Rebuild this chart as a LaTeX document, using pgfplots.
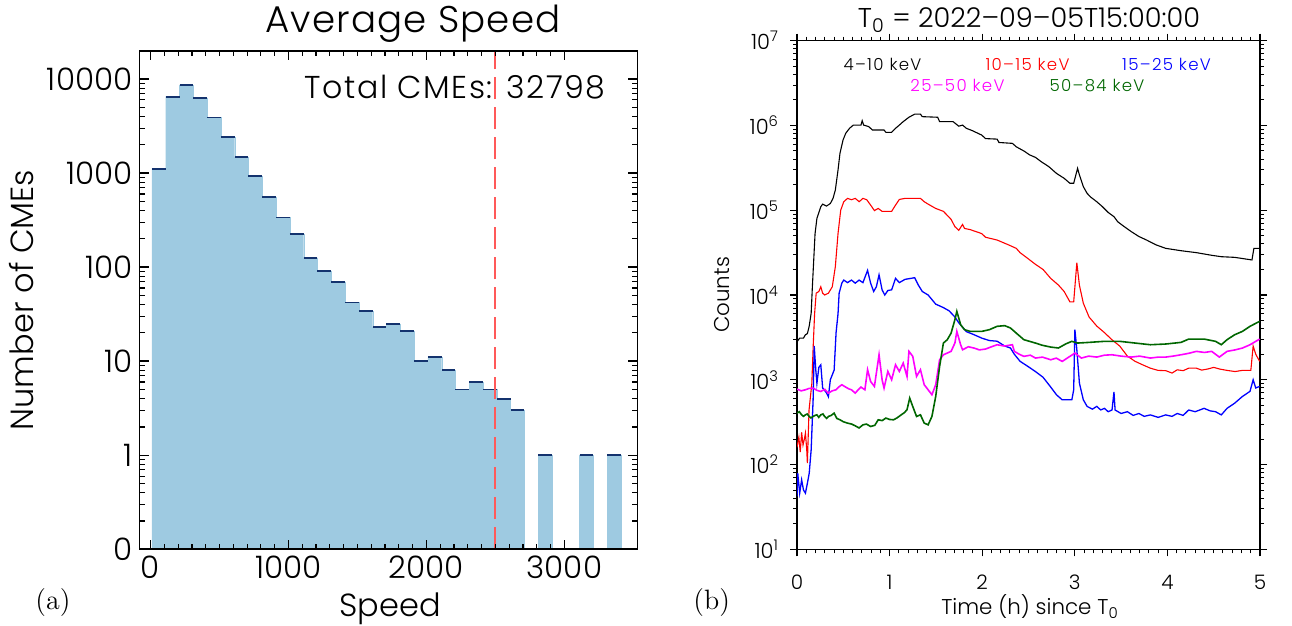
\documentclass[border=0pt]{standalone}
\usepackage{pgfplots}
\pgfplotsset{compat=1.18}
\usepackage{pgfplotstable}
\usepackage{fontspec}
\IfFontExistsTF{Poppins Light}{\setmainfont{Poppins Light}}{\setmainfont{Poppins}}
\newfontfamily\lmr{Latin Modern Roman}
\newcommand\fsz[1]{\fontsize{#1}{#1}\selectfont}
\definecolor{barblue}{rgb}{0.62,0.792,0.882}
\definecolor{barnavy}{rgb}{0.08,0.2,0.43}
\definecolor{dashred}{rgb}{1,0.35,0.35}
\definecolor{dkgreen}{rgb}{0,0.4,0}
\definecolor{cred}{rgb}{1,0,0}
\definecolor{cblue}{rgb}{0,0,1}
\definecolor{cmag}{rgb}{1,0,1}

% histogram of average speed: left bin edge, number of CMEs (empty bins drawn at the "0" level, 0.1)
\pgfplotstableread{
x n
10 1110
110 6500
210 8560
310 6320
410 3890
510 2400
610 1479
710 929
810 560
910 337
1010 226
1110 126
1210 91
1310 70
1410 42
1510 34
1610 23
1710 25
1810 21
1910 10
2010 11
2110 8
2210 5
2310 6
2410 5
2510 4
2610 3
2710 0.1
2810 1
2910 0.1
3010 0.1
3110 1
3210 0.1
3310 1
3410 0.1
}\speedhist

\begin{document}
\begin{tikzpicture}
\path[use as bounding box] (0,0) rectangle (646pt,313pt);

% ---------------- (a) ----------------
\begin{axis}[
  at={(69.75pt,38.35pt)}, anchor=south west, scale only axis,
  width=249pt, height=249.3pt,
  xmin=-80, xmax=3530, ymode=log, ymin=0.1, ymax=2e4,
  log origin y=infty,
  xtick={0,1000,2000,3000}, xticklabels={0,1000,2000,3000},
  minor x tick num=9,
  ytick={0.1,1,10,100,1000,10000}, yticklabels={0,1,10,100,1000,10000},
  minor ytick={0.2,0.3,0.4,0.5,0.6,0.7,0.8,0.9,2,3,4,5,6,7,8,9,20,30,40,50,60,70,80,90,200,300,400,500,600,700,800,900,2000,3000,4000,5000,6000,7000,8000,9000},
  tick align=inside, major tick length=4.7pt, minor tick length=2.6pt,
  axis line style={line width=0.9pt},
  major tick style={line width=0.7pt, black}, minor tick style={line width=0.6pt, black},
  tick label style={font=\fsz{15.5}},
  /pgf/number format/assume math mode=true,
  axis on top,
]
\addplot[ybar interval, fill=barblue, draw=barblue, line width=0.1pt] table[x=x, y=n] {\speedhist};
\addplot[color=barnavy, line width=0.9pt, unbounded coords=jump] coordinates {
(10,1110)(110,1110)(110,nan)
(110,6500)(210,6500)(210,nan)
(210,8560)(310,8560)(310,nan)
(310,6320)(410,6320)(410,nan)
(410,3890)(510,3890)(510,nan)
(510,2400)(610,2400)(610,nan)
(610,1479)(710,1479)(710,nan)
(710,929)(810,929)(810,nan)
(810,560)(910,560)(910,nan)
(910,337)(1010,337)(1010,nan)
(1010,226)(1110,226)(1110,nan)
(1110,126)(1210,126)(1210,nan)
(1210,91)(1310,91)(1310,nan)
(1310,70)(1410,70)(1410,nan)
(1410,42)(1510,42)(1510,nan)
(1510,34)(1610,34)(1610,nan)
(1610,23)(1710,23)(1710,nan)
(1710,25)(1810,25)(1810,nan)
(1810,21)(1910,21)(1910,nan)
(1910,10)(2010,10)(2010,nan)
(2010,11)(2110,11)(2110,nan)
(2110,8)(2210,8)(2210,nan)
(2210,5)(2310,5)(2310,nan)
(2310,6)(2410,6)(2410,nan)
(2410,5)(2510,5)(2510,nan)
(2510,4)(2610,4)(2610,nan)
(2610,3)(2710,3)(2710,nan)
(2810,1)(2910,1)(2910,nan)
(3110,1)(3210,1)(3210,nan)
(3310,1)(3410,1)
};
\addplot[color=dashred, line width=1pt, dash pattern=on 11pt off 4pt] coordinates {(2500,0.1)(2500,2e4)};
\end{axis}

% ---------------- (b) ----------------
\begin{axis}[
  at={(398.5pt,38.35pt)}, anchor=south west, scale only axis,
  width=231.5pt, height=254.3pt,
  xmin=0, xmax=5, ymode=log, ymin=10, ymax=1e7,
  xtick={0,1,2,3,4,5}, xticklabels={0,1,2,3,4,5}, minor x tick num=9,
  ytick={10,100,1000,10000,100000,1000000,10000000},
  yticklabels={10\textsuperscript{1},10\textsuperscript{2},10\textsuperscript{3},10\textsuperscript{4},10\textsuperscript{5},10\textsuperscript{6},10\textsuperscript{7}},
  minor ytick={20,30,40,50,60,70,80,90,200,300,400,500,600,700,800,900,2000,3000,4000,5000,6000,7000,8000,9000,2e4,3e4,4e4,5e4,6e4,7e4,8e4,9e4,2e5,3e5,4e5,5e5,6e5,7e5,8e5,9e5,2e6,3e6,4e6,5e6,6e6,7e6,8e6,9e6},
  tick align=outside, major tick length=3.5pt, minor tick length=2pt,
  axis line style={line width=0.7pt},
  major tick style={line width=0.6pt, black}, minor tick style={line width=0.5pt, black},
  tick label style={font=\fsz{10.5}},
  xticklabel style={font=\fsz{10}, yshift=-6pt},
  yticklabel style={xshift=-2pt},
  /pgf/number format/assume math mode=true,
  every axis plot/.append style={line width=0.55pt},
]
% 4-10 keV
\addplot[color=black] coordinates {
(0,2800)(0.029,3100)(0.07,3100)(0.091,3400)(0.112,3500)(0.132,4300)(0.153,6100)(0.166,12500)(0.195,53000)(0.215,80000)(0.257,110000)(0.277,118000)(0.319,112000)(0.36,120000)(0.389,138000)(0.414,173000)(0.443,298000)(0.464,469000)(0.497,673000)(0.526,807000)(0.567,925000)(0.608,1010000)(0.691,1010000)(0.704,1140000)(0.72,1010000)(0.774,970000)(0.815,883000)(0.94,883000)(0.96,830000)(1.022,830000)(1.064,925000)(1.105,1010000)(1.147,1110000)(1.209,1250000)(1.271,1360000)(1.333,1360000)(1.353,1270000)(1.519,1250000)(1.54,1110000)(1.685,1110000)(1.747,980000)(1.788,1010000)(1.829,925000)(1.892,870000)(1.995,770000)(2.036,700000)(2.161,690000)(2.181,630000)(2.326,615000)(2.368,560000)(2.45,500000)(2.512,450000)(2.575,420000)(2.637,374000)(2.719,327000)(2.802,272000)(2.885,238000)(2.947,208000)(2.988,208000)(3.03,312000)(3.05,260000)(3.092,190000)(3.133,158000)(3.175,142000)(3.237,126000)(3.299,110000)(3.361,94000)(3.423,84000)(3.464,73000)(3.526,65000)(3.609,56000)(3.692,49000)(3.775,44500)(3.878,39000)(3.982,35500)(4.147,33300)(4.313,31600)(4.478,29400)(4.582,28300)(4.727,27800)(4.913,25900)(4.934,35500)(4.996,35500)
};
% 10-15 keV
\addplot[color=cred] coordinates {
(0,160)(0.02,210)(0.035,140)(0.05,240)(0.065,170)(0.08,200)(0.091,235)(0.105,150)(0.112,104)(0.13,440)(0.16,900)(0.175,2500)(0.19,6000)(0.207,10500)(0.236,11000)(0.257,12500)(0.277,10500)(0.298,10000)(0.339,10500)(0.381,12500)(0.414,21600)(0.443,53000)(0.472,100000)(0.505,126000)(0.546,138000)(0.588,133000)(0.629,138000)(0.671,126000)(0.712,138000)(0.753,133000)(0.795,115000)(0.836,99000)(0.877,105000)(0.919,97000)(1.022,97000)(1.064,115000)(1.105,134000)(1.167,138000)(1.333,138000)(1.374,126000)(1.416,118000)(1.498,105000)(1.581,97000)(1.623,87000)(1.664,78000)(1.705,64000)(1.747,58000)(1.788,68000)(1.809,61000)(1.871,59000)(1.995,53000)(2.036,48000)(2.161,44500)(2.285,39000)(2.368,35500)(2.409,31600)(2.492,27000)(2.575,23000)(2.657,20000)(2.74,15700)(2.823,13100)(2.885,11000)(2.947,8300)(2.988,8300)(3.022,24000)(3.05,13000)(3.092,8000)(3.154,5500)(3.237,4300)(3.32,3600)(3.402,2960)(3.485,2500)(3.568,1900)(3.651,1650)(3.733,1500)(3.816,1370)(3.899,1290)(3.982,1280)(4.05,1200)(4.106,1310)(4.17,1280)(4.23,1370)(4.313,1370)(4.37,1300)(4.437,1340)(4.5,1400)(4.561,1340)(4.644,1290)(4.73,1250)(4.81,1290)(4.901,1290)(4.926,2500)(4.954,2000)(4.996,1650)
};
% 15-25 keV
\addplot[color=cblue, line width=0.65pt] coordinates {
(0,42)(0.008,79)(0.029,46)(0.05,66)(0.07,50)(0.091,46)(0.112,60)(0.132,79)(0.153,150)(0.174,580)(0.186,2500)(0.203,1300)(0.215,910)(0.236,1400)(0.257,1500)(0.277,800)(0.319,700)(0.339,630)(0.36,1000)(0.401,1300)(0.422,3600)(0.443,6000)(0.455,10500)(0.484,13800)(0.505,15000)(0.546,14000)(0.588,15000)(0.629,13800)(0.671,15000)(0.712,14000)(0.762,19500)(0.795,13800)(0.828,11000)(0.857,12500)(0.886,17300)(0.919,11500)(0.948,10000)(0.981,11300)(1.022,11500)(1.064,15700)(1.105,14000)(1.167,15300)(1.229,15700)(1.271,16000)(1.312,13000)(1.353,11000)(1.416,10000)(1.498,7800)(1.581,7100)(1.643,6500)(1.705,5500)(1.747,4700)(1.829,3700)(1.912,3400)(1.995,3100)(2.078,2900)(2.161,2850)(2.243,2500)(2.305,2370)(2.347,2000)(2.409,1650)(2.492,1440)(2.575,1250)(2.657,1070)(2.74,820)(2.802,665)(2.864,580)(2.968,580)(2.988,760)(3.001,3900)(3.022,2260)(3.05,910)(3.092,580)(3.133,485)(3.19,450)(3.237,485)(3.28,440)(3.32,460)(3.36,420)(3.402,440)(3.423,720)(3.435,440)(3.5,400)(3.568,420)(3.63,380)(3.692,400)(3.75,370)(3.816,385)(3.9,360)(3.982,385)(4.05,370)(4.106,400)(4.17,380)(4.23,440)(4.3,420)(4.396,460)(4.46,430)(4.52,420)(4.582,385)(4.644,460)(4.727,530)(4.81,635)(4.892,730)(4.926,1000)(4.954,800)(4.996,835)
};
% 25-50 keV
\addplot[color=cmag, line width=0.8pt] coordinates {
(0,776)(0.045,740)(0.091,762)(0.13,790)(0.174,798)(0.215,750)(0.257,728)(0.3,770)(0.339,696)(0.38,740)(0.422,762)(0.45,820)(0.484,873)(0.526,819)(0.56,780)(0.588,762)(0.629,696)(0.66,760)(0.691,819)(0.733,762)(0.762,1313)(0.795,955)(0.836,834)(0.857,1199)(0.886,1972)(0.919,1000)(0.94,798)(0.981,1254)(1.022,1000)(1.064,1503)(1.105,1254)(1.147,1573)(1.188,1095)(1.209,2163)(1.25,1888)(1.291,1095)(1.333,1313)(1.374,873)(1.416,762)(1.457,665)(1.498,873)(1.54,1722)(1.581,1972)(1.664,2163)(1.705,2710)(1.726,3723)(1.767,2588)(1.788,2259)(1.85,2450)(1.912,2366)(1.97,2250)(2.036,2303)(2.1,2450)(2.161,2588)(2.24,2500)(2.326,2588)(2.347,2163)(2.4,2000)(2.45,1888)(2.52,1950)(2.575,1803)(2.65,1850)(2.74,1722)(2.8,1800)(2.864,1647)(2.947,1888)(3.001,2066)(3.071,1803)(3.15,1900)(3.237,1852)(3.32,1950)(3.402,1972)(3.5,1900)(3.609,1852)(3.7,1900)(3.816,1803)(3.9,1850)(3.982,1852)(4.06,1900)(4.147,1972)(4.23,2050)(4.313,2163)(4.4,2100)(4.478,2163)(4.561,1852)(4.644,2163)(4.73,2250)(4.81,2366)(4.892,2588)(4.996,3020)
};
% 50-84 keV
\addplot[color=dkgreen, line width=0.8pt] coordinates {
(0,404)(0.025,420)(0.05,386)(0.07,370)(0.091,386)(0.11,395)(0.132,369)(0.15,355)(0.174,369)(0.195,380)(0.215,386)(0.235,360)(0.257,386)(0.28,395)(0.298,369)(0.32,350)(0.339,369)(0.37,380)(0.401,404)(0.43,350)(0.464,337)(0.5,320)(0.546,308)(0.59,300)(0.629,286)(0.67,270)(0.712,294)(0.75,300)(0.795,281)(0.84,290)(0.877,337)(0.92,330)(0.96,353)(1.0,340)(1.043,337)(1.08,355)(1.126,386)(1.16,410)(1.188,443)(1.217,607)(1.25,484)(1.291,369)(1.333,386)(1.374,308)(1.416,294)(1.457,369)(1.498,636)(1.54,1436)(1.581,2710)(1.623,2970)(1.664,3550)(1.705,5110)(1.726,6410)(1.747,5350)(1.767,4460)(1.809,3900)(1.871,3720)(1.995,3720)(2.078,3900)(2.161,4270)(2.243,4350)(2.305,4080)(2.368,3550)(2.45,2970)(2.575,2710)(2.65,2550)(2.74,2430)(2.823,2370)(2.906,2660)(2.968,2840)(3.03,2710)(3.154,2760)(3.32,2840)(3.485,2840)(3.651,2710)(3.816,2590)(3.982,2640)(4.147,2760)(4.23,3020)(4.396,3020)(4.52,2840)(4.582,2590)(4.644,2970)(4.727,3400)(4.81,3720)(4.892,4270)(4.996,4890)
};
\end{axis}

% ---------------- texts ----------------
\node[anchor=base, font=\fsz{18.6}\addfontfeatures{LetterSpace=3}] at (206.5pt,296.5pt) {Average Speed};
\node[anchor=base, font=\fsz{15.8}\addfontfeatures{LetterSpace=5}] at (227.5pt,263.5pt) {Total CMEs: 32798};
\node[anchor=base, rotate=90, font=\fsz{16}] at (16.5pt,163pt) {Number of CMEs};
\node[anchor=base, font=\fsz{16}] at (195pt,4.5pt) {Speed};
\node[anchor=base west, inner sep=0pt, font=\lmr\fsz{14}] at (17.5pt,8pt) {(a)};

\node[anchor=base, font=\fsz{13.6}] at (514.5pt,299pt) {T\textsubscript{0} = 2022–09–05T15:00:00};
\node[anchor=base, rotate=90, font=\fsz{10.7}] at (364.5pt,165.5pt) {Counts};
\node[anchor=base, font=\fsz{10.7}] at (515pt,5.5pt) {Time (h) since T\textsubscript{0}};
\node[anchor=base west, inner sep=0pt, font=\lmr\fsz{14}] at (346.5pt,8pt) {(b)};

\node[anchor=base, font=\fsz{8.3}\addfontfeatures{LetterSpace=8}, text=black] at (441.25pt,277.65pt) {4–10 keV};
\node[anchor=base, font=\fsz{8.3}\addfontfeatures{LetterSpace=8}, text=cred] at (513.75pt,277.65pt) {10–15 keV};
\node[anchor=base, font=\fsz{8.3}\addfontfeatures{LetterSpace=8}, text=cblue] at (583.25pt,277.65pt) {15–25 keV};
\node[anchor=base, font=\fsz{8.3}\addfontfeatures{LetterSpace=8}, text=cmag] at (478.75pt,267.35pt) {25–50 keV};
\node[anchor=base, font=\fsz{8.3}\addfontfeatures{LetterSpace=8}, text=dkgreen] at (548.5pt,267.35pt) {50–84 keV};
\end{tikzpicture}
\end{document}
